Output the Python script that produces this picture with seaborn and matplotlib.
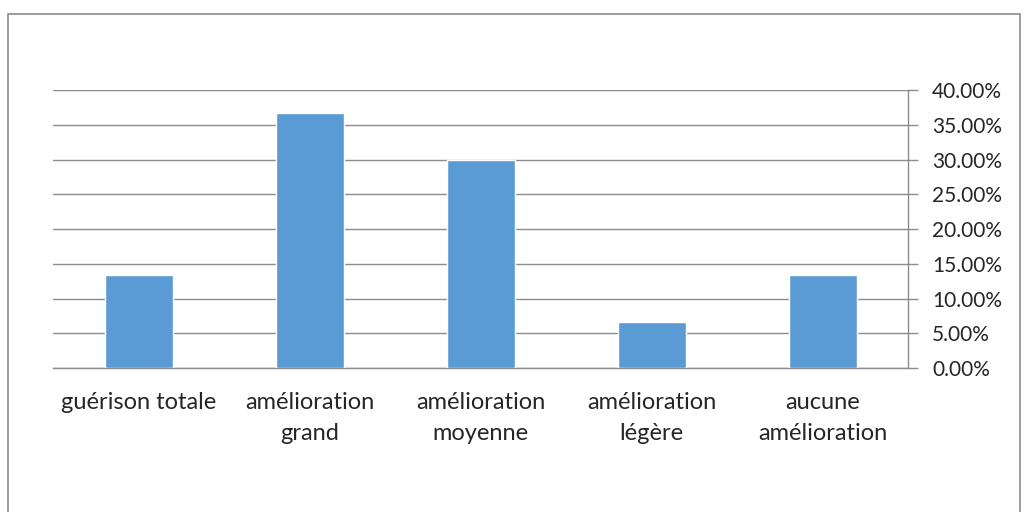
import matplotlib
matplotlib.use("Agg")
import matplotlib.pyplot as plt
from matplotlib.patches import Rectangle
from matplotlib.ticker import FixedLocator, FuncFormatter
import seaborn as sns
import numpy as np
import pandas as pd

categories = ["guérison totale", "amélioration\ngrand", "amélioration\nmoyenne",
              "amélioration\nlégère", "aucune\namélioration"]
values = [13.33, 36.67, 30.00, 6.67, 13.33]
y_ticks = [0, 5, 10, 15, 20, 25, 30, 35, 40]

sns.set_style("white")
plt.rcParams['font.family'] = ['Lato', 'DejaVu Sans']

grey = "#8c8c8c"
df = pd.DataFrame({"cat": categories, "val": values})

fig = plt.figure(figsize=(10.24, 5.12), dpi=100)
ax = fig.add_axes([0.052, 0.281, 0.835, 0.543])

sns.barplot(data=df, x="cat", y="val", color="#5B9BD5", width=0.4,
            saturation=1, ax=ax, zorder=3)

ax.set_xlim(-0.5, len(categories) - 0.5)
ax.set_ylim(0, 40)
ax.set_xlabel("")
ax.set_ylabel("")

ax.yaxis.tick_right()
ax.set_yticks(y_ticks)
ax.yaxis.set_major_formatter(FuncFormatter(lambda v, p: f"{v:.2f}%"))
ax.tick_params(axis="y", which="major", length=7, width=1, color=grey,
               labelsize=15, pad=10, direction="out")
ax.grid(axis="y", color=grey, linewidth=1, zorder=0)

ax.tick_params(axis="x", which="major", length=0, labelsize=17, pad=17)
for lbl in ax.get_xticklabels():
    lbl.set_linespacing(1.6)
ax.xaxis.set_minor_locator(FixedLocator(np.arange(-0.5, len(categories), 1.0)))
ax.tick_params(axis="x", which="minor", length=7, width=1, color=grey,
               direction="out")

for s in ["top", "left"]:
    ax.spines[s].set_visible(False)
for s in ["right", "bottom"]:
    ax.spines[s].set_color(grey)
    ax.spines[s].set_linewidth(1)

fig.patches.append(Rectangle((8 / 1024, -0.1), 1012 / 1024, 1 - 14 / 512 + 0.1,
                             transform=fig.transFigure, fill=False,
                             edgecolor=grey, linewidth=1.2))

fig.savefig("out.png", dpi=100)
